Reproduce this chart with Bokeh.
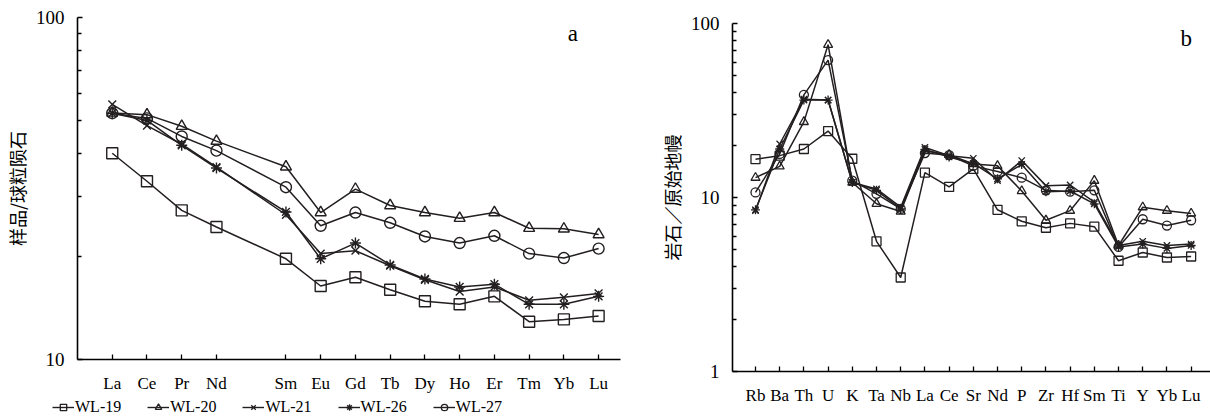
from bokeh.plotting import figure
from bokeh.models import FixedTicker, PrintfTickFormatter, Legend, LegendItem, Label
from bokeh.layouts import row, column
from bokeh.embed import file_html
from bokeh.resources import INLINE

# ---------------- data: panel a (REE / chondrite) ----------------
ree = ["La", "Ce", "Pr", "Nd", "Sm", "Eu", "Gd", "Tb", "Dy", "Ho", "Er", "Tm", "Yb", "Lu"]
ree_wl19 = [40.1, 33.2, 27.3, 24.4, 19.7, 16.4, 17.4, 16.0, 14.8, 14.5, 15.3, 12.9, 13.1, 13.4]
ree_wl20 = [52.6, 52.0, 48.1, 43.5, 36.6, 26.9, 31.5, 28.2, 26.9, 25.9, 26.9, 24.2, 24.1, 23.2]
ree_wl21 = [55.7, 48.3, 42.6, 36.5, 26.5, 20.4, 20.8, 18.8, 17.1, 15.8, 16.3, 14.9, 15.2, 15.6]
ree_wl26 = [52.5, 50.0, 42.3, 36.3, 27.0, 19.7, 21.9, 18.9, 17.2, 16.3, 16.6, 14.5, 14.5, 15.3]
ree_wl27 = [52.5, 50.7, 44.9, 40.8, 31.9, 24.6, 26.9, 25.1, 22.9, 21.9, 23.0, 20.4, 19.8, 21.1]

# ---------------- data: panel b (trace elements / primitive mantle) ----------------
elems = ["Rb", "Ba", "Th", "U", "K", "Ta", "Nb", "La", "Ce", "Sr", "Nd", "P", "Zr", "Hf",
         "Sm", "Ti", "Y", "Yb", "Lu"]
tr_wl19 = [16.6, 17.4, 19.0, 24.1, 16.7, 5.6, 3.47, 13.9, 11.5, 14.6, 8.5, 7.3, 6.7, 7.1, 6.8, 4.33, 4.83, 4.52, 4.58]
tr_wl20 = [13.0, 15.1, 27.2, 75.5, 12.2, 9.2, 8.3, 18.5, 17.6, 15.6, 15.2, 10.9, 7.4, 8.4, 12.5, 5.3, 8.8, 8.4, 8.1]
tr_wl21 = [8.4, 20.3, 36.7, 36.3, 12.2, 11.2, 8.8, 19.4, 17.4, 16.8, 12.5, 16.3, 11.7, 11.8, 9.4, 5.3, 5.6, 5.3, 5.4]
tr_wl26 = [8.5, 19.0, 36.3, 36.3, 12.2, 11.0, 8.6, 18.9, 17.1, 15.7, 12.8, 15.5, 10.8, 10.9, 9.2, 5.2, 5.4, 5.1, 5.3]
tr_wl27 = [10.7, 17.8, 38.9, 61.6, 12.5, 10.5, 8.6, 18.0, 17.5, 15.2, 14.1, 13.0, 11.0, 10.8, 11.0, 5.2, 7.5, 6.9, 7.4]

samples = ["WL-19", "WL-20", "WL-21", "WL-26", "WL-27"]
markers = ["square", "triangle", "x", "asterisk", "circle"]

INK = "#231f20"
SERIF = "Liberation Serif"
CJK = "Noto Sans CJK SC"

# positions: REE leave an empty slot for Pm between Nd and Sm
ree_x = [i + 1 + (1 if i >= 4 else 0) for i in range(len(ree))]
el_x = [i + 1 for i in range(len(elems))]


def style(p, xticks, xlabels, yticks, yminor, ylabel, xfont):
    p.outline_line_color = None
    p.grid.visible = False
    for ax in (p.xaxis[0], p.yaxis[0]):
        ax.axis_line_color = "black"
        ax.axis_line_width = 1.6
        ax.major_tick_line_color = "black"
        ax.minor_tick_line_color = "black"
        ax.major_tick_line_width = 1.3
        ax.minor_tick_line_width = 1.3
        ax.major_tick_in = 5
        ax.major_tick_out = 0
        ax.minor_tick_in = 4
        ax.minor_tick_out = 0
        ax.major_label_text_font = SERIF
        ax.major_label_text_color = "black"
    xa = p.xaxis[0]
    xa.ticker = FixedTicker(ticks=xticks)
    xa.major_label_overrides = {t: l for t, l in zip(xticks, xlabels)}
    xa.major_label_text_font_size = xfont
    xa.major_label_standoff = 14
    ya = p.yaxis[0]
    ya.ticker = FixedTicker(ticks=yticks, minor_ticks=yminor)
    ya.formatter = PrintfTickFormatter(format="%d")
    ya.major_label_text_font_size = "19px"
    ya.major_label_standoff = 13
    ya.axis_label = ylabel
    ya.axis_label_text_font = CJK
    ya.axis_label_text_font_size = "18px"
    ya.axis_label_text_font_style = "normal"
    ya.axis_label_text_color = "black"
    ya.axis_label_standoff = 3


# ---------------- panel a ----------------
pa = figure(width=625, height=399, x_range=(0, 15.63), y_range=(10, 100),
            y_axis_type="log", output_backend="svg", toolbar_location=None,
            min_border_left=73, min_border_right=5, min_border_top=17, min_border_bottom=40)
style(pa, ree_x, ree, [10, 100], [20, 30, 40, 50, 60, 70, 80, 90], "样品/球粒陨石", "17px")

for name, mk, ys in zip(samples, markers, [ree_wl19, ree_wl20, ree_wl21, ree_wl26, ree_wl27]):
    pa.line(ree_x, ys, line_color=INK, line_width=1.5)
    pa.scatter(ree_x, ys, marker=mk, size=11, line_color=INK, line_width=1.4, fill_alpha=0)

pa.add_layout(Label(x=14.26, y=90, text="a", text_align="center", text_baseline="middle",
                    text_font=SERIF, text_font_size="23px", text_color="black"))

# legend strip under panel a (its sample glyphs sit outside the visible range)
pl = figure(width=625, height=18, x_range=(0, 625), y_range=(0, 18),
            output_backend="svg", toolbar_location=None,
            x_axis_location=None, y_axis_location=None,
            min_border_left=0, min_border_right=0, min_border_top=0, min_border_bottom=0)
pl.outline_line_color = None
pl.grid.visible = False
items = []
for name, mk in zip(samples, markers):
    lr = pl.line(x=[-100, -90], y=[-100, -100], line_color=INK, line_width=1.4)
    mr = pl.scatter(x=[-100], y=[-100], marker=mk, size=9, line_color=INK, line_width=1.3,
                    fill_alpha=0)
    items.append(LegendItem(label=name, renderers=[lr, mr]))
leg = Legend(items=items, orientation="horizontal", location=(52, 1),
             glyph_width=22, glyph_height=16, label_height=16, label_standoff=1,
             spacing=26, padding=0, margin=0, border_line_alpha=0,
             background_fill_alpha=0, label_text_font=SERIF, label_text_font_size="16px",
             label_text_color="black")
pl.add_layout(leg)

# ---------------- panel b ----------------
pb = figure(width=585, height=411, x_range=(0.05, 19.80), y_range=(1, 100),
            y_axis_type="log", output_backend="svg", toolbar_location=None,
            min_border_left=107, min_border_right=0, min_border_top=23, min_border_bottom=40)
minor_b = [2, 3, 4, 5, 6, 7, 8, 9, 20, 30, 40, 50, 60, 70, 80, 90]
style(pb, el_x, elems, [1, 10, 100], minor_b, "岩石／原始地幔", "17px")

for name, mk, ys in zip(samples, markers, [tr_wl19, tr_wl20, tr_wl21, tr_wl26, tr_wl27]):
    pb.line(el_x, ys, line_color=INK, line_width=1.5)
    pb.scatter(el_x, ys, marker=mk, size=9, line_color=INK, line_width=1.3, fill_alpha=0)

pb.add_layout(Label(x=18.8, y=82, text="b", text_align="center", text_baseline="middle",
                    text_font=SERIF, text_font_size="23px", text_color="black"))

layout = row(column(pa, row(pl)), pb)
open("out.html", "w").write(file_html(layout, INLINE))
